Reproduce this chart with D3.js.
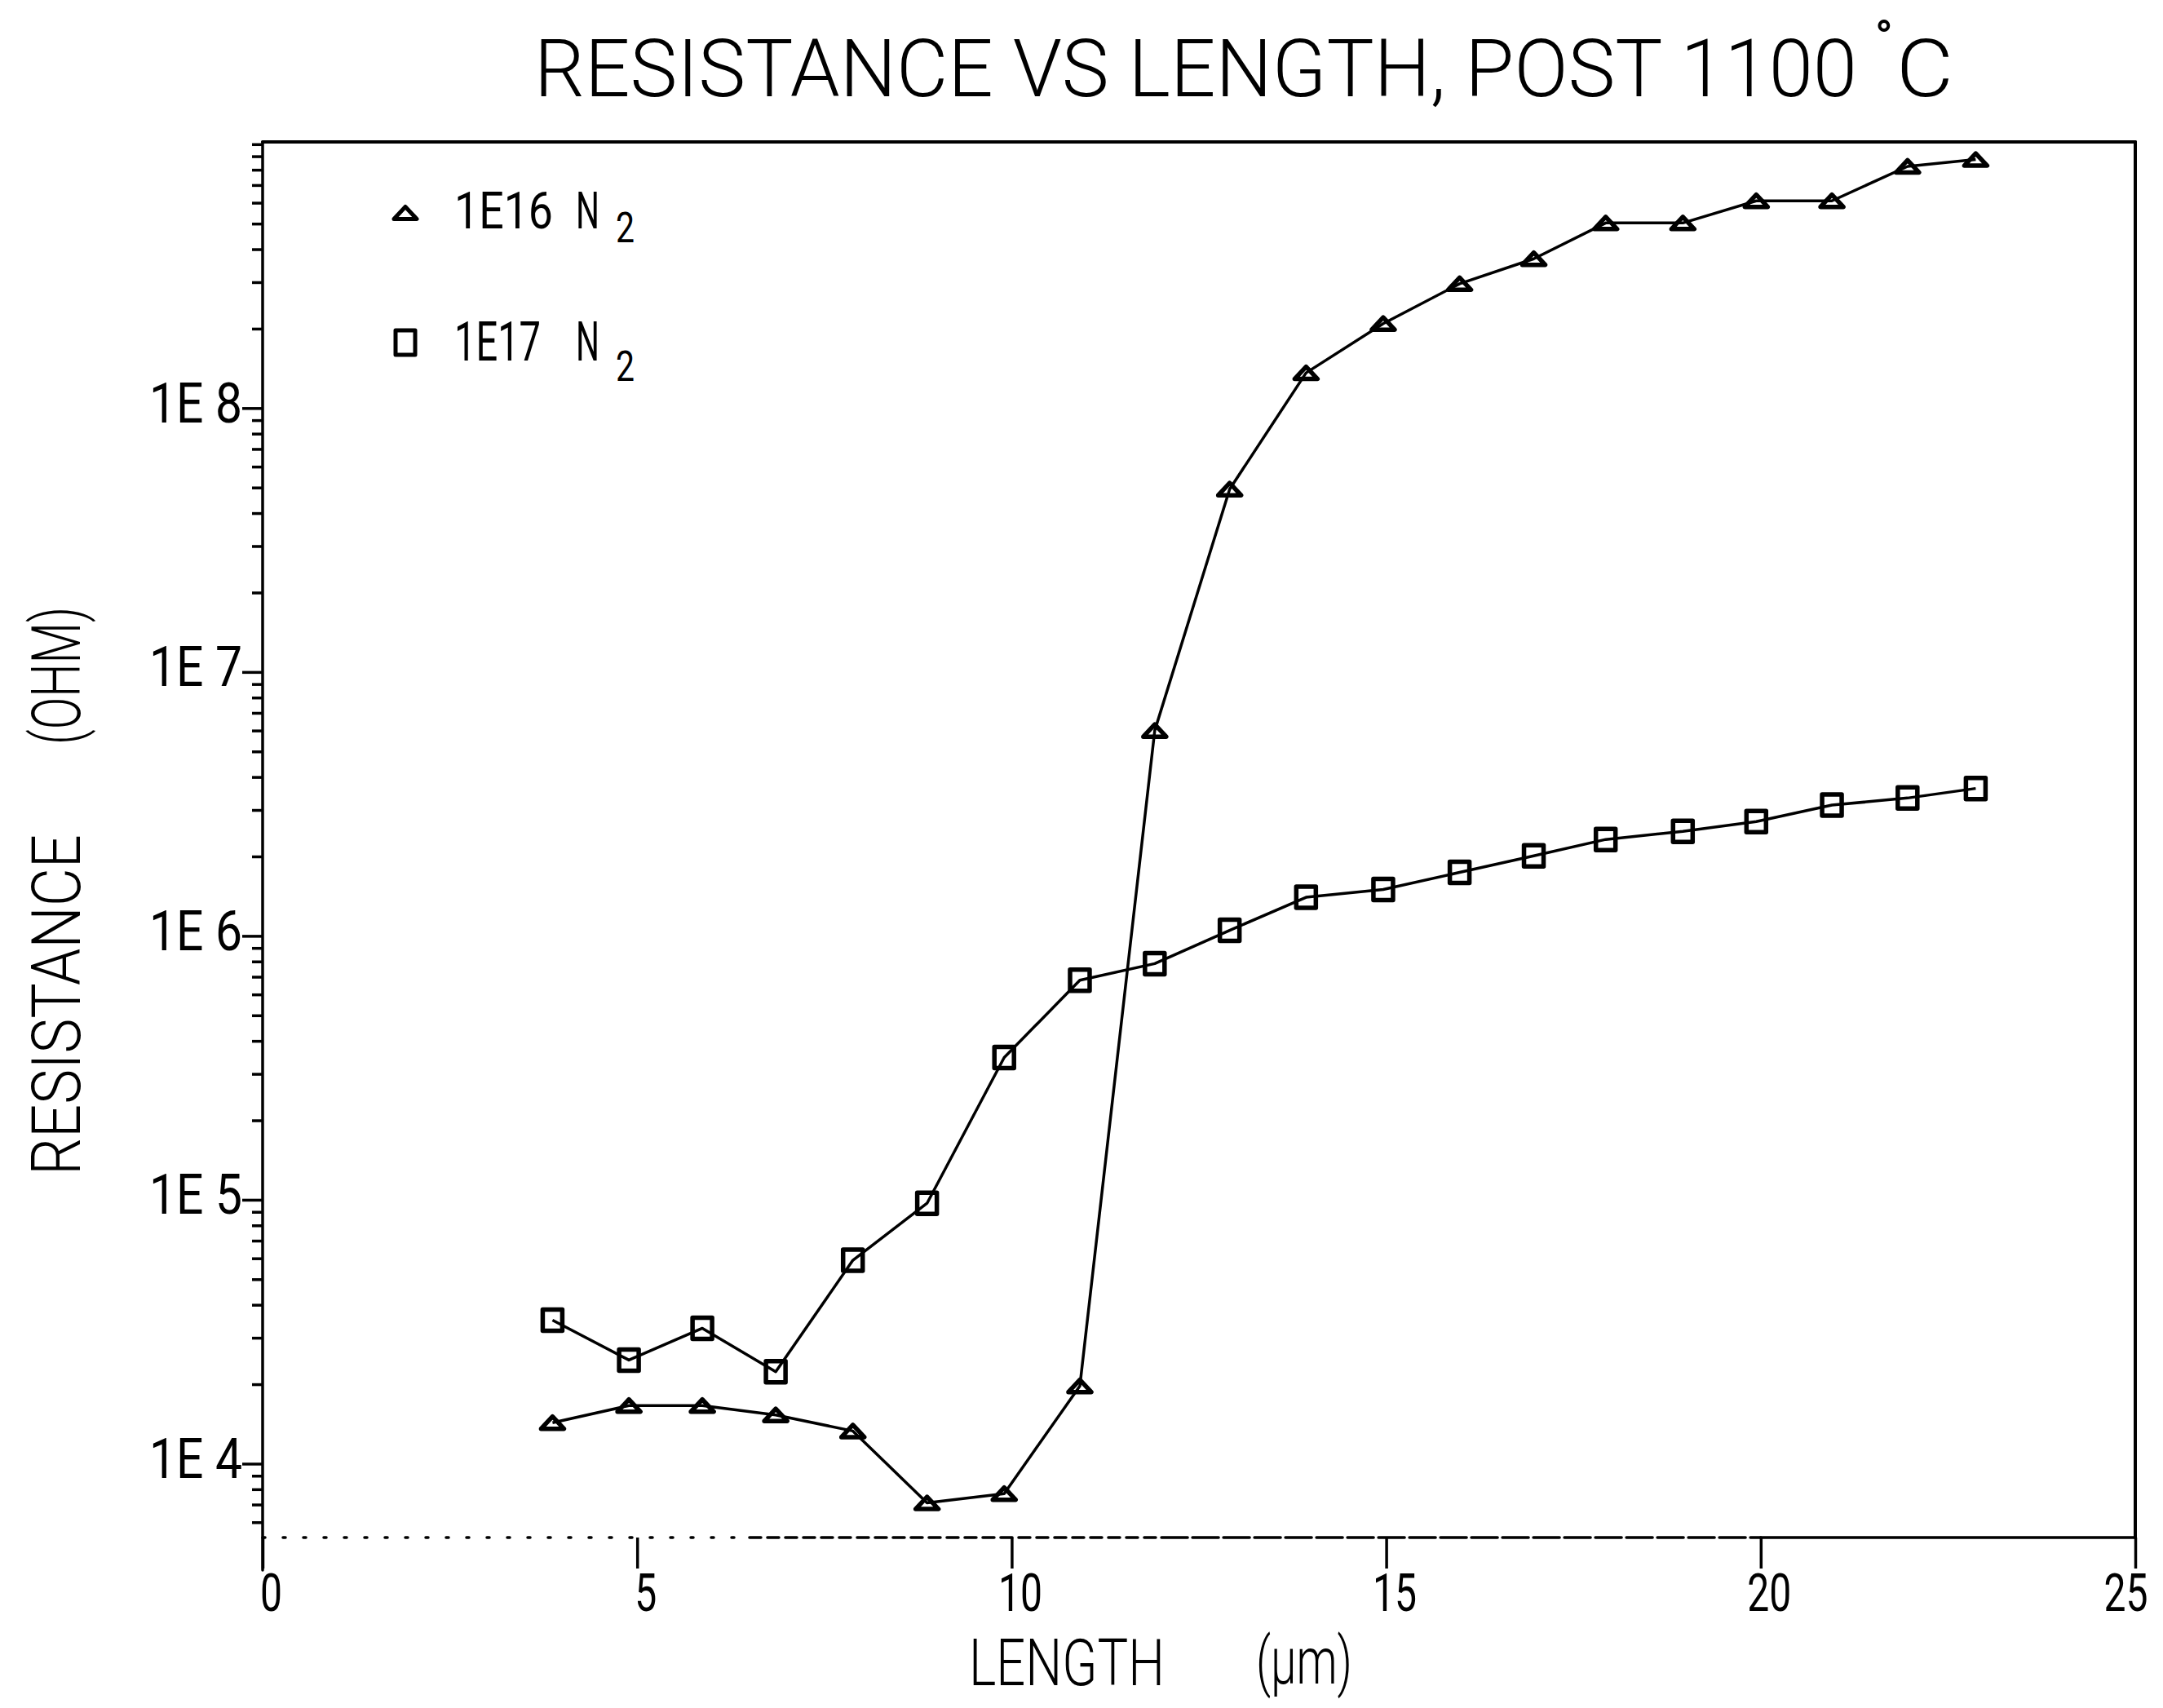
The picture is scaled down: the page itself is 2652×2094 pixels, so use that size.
<!DOCTYPE html>
<html>
<head>
<meta charset="utf-8">
<script src="https://cdn.jsdelivr.net/npm/d3@7"></script>
<style>
html,body{margin:0;padding:0;background:#fff;}
svg{display:block;}
</style>
</head>
<body>
<svg id="chart" width="2652" height="2094"></svg>
<script>
// ---- data ----
const lengths = [3.87, 4.89, 5.87, 6.85, 7.88, 8.87, 9.9, 10.91, 11.91, 12.91, 13.93, 14.96, 15.98, 16.97, 17.93, 18.96, 19.94, 20.95, 21.96, 22.87];
const res1E16 = [1.43e4, 1.66e4, 1.66e4, 1.53e4, 1.33e4, 7.1e3, 7.7e3, 1.97e4, 6.0e6, 4.93e7, 1.36e8, 2.09e8, 2.96e8, 3.68e8, 5.03e8, 5.03e8, 6.1e8, 6.1e8, 8.24e8, 8.75e8];
const res1E17 = [3.5e4, 2.47e4, 3.26e4, 2.23e4, 5.9e4, 9.7e4, 3.46e5, 6.79e5, 7.85e5, 1.05e6, 1.40e6, 1.50e6, 1.74e6, 2.01e6, 2.32e6, 2.49e6, 2.71e6, 3.13e6, 3.33e6, 3.62e6];
const seriesLabels = ["1E16", "1E17"];
const seriesGas = ["N", "N"];
const seriesSub = ["2", "2"];
const xTickValues = [0, 5, 10, 15, 20, 25];
const yDecadeExps = [4, 5, 6, 7, 8];
const titleMain = "RESISTANCE VS LENGTH, POST 1100";
const titleDeg = "\u00b0";
const titleUnit = "C";
const xTitle = "LENGTH";
const xUnit = "(\u03bcm)";
const yTitle = "RESISTANCE";
const yUnit = "(OHM)";

// ---- setup ----
const W = 2652, H = 2094;
const FONT = "Roboto, 'DejaVu Sans', sans-serif";
const svg = d3.select("#chart");
svg.append("rect").attr("width", W).attr("height", H).attr("fill", "#fff");

const x = d3.scaleLinear().domain([0, 25]).range([322, 2618]);
const y = d3.scaleLog().domain([5.25e3, 1.02e9]).range([1885, 174]);
const [yBot, yTop] = y.range();
const [xL, xR] = x.range();

// ---- frame ----
const frame = svg.append("g").attr("stroke", "#000").attr("fill", "none").attr("stroke-linecap", "round");
frame.append("line").attr("x1", xL).attr("x2", xR).attr("y1", yTop).attr("y2", yTop).attr("stroke-width", 4);
frame.append("line").attr("x1", xR).attr("x2", xR).attr("y1", yTop).attr("y2", yBot).attr("stroke-width", 4);
frame.append("line").attr("x1", xL).attr("x2", xL).attr("y1", yTop).attr("y2", yBot + 40).attr("stroke-width", 3.5);
// bottom frame: faded dotted on the left, solid on the right
const bottomSegs = [[0, 6.5, "3,22"], [6.5, 12, "14,8"], [12, 20, "32,6"], [20, 25, null]];
bottomSegs.forEach(([a, b, dash]) => {
  const l = frame.append("line").attr("x1", x(a)).attr("x2", x(b)).attr("y1", yBot).attr("y2", yBot).attr("stroke-width", 3.5);
  if (dash) l.attr("stroke-dasharray", dash);
});

// ---- y axis (log) ----
const yAxis = d3.axisLeft(y)
  .tickValues(yDecadeExps.map(e => Math.pow(10, e)))
  .tickSize(25).tickPadding(0)
  .tickFormat(d => "1E " + Math.round(Math.log10(d)));
const gy = svg.append("g").attr("transform", `translate(${xL},0)`).call(yAxis);
gy.select(".domain").remove();
gy.selectAll(".tick line").attr("stroke", "#000").attr("stroke-width", 3.5);
gy.selectAll(".tick text")
  .attr("font-family", FONT).attr("font-size", 68).attr("fill", "#000")
  .attr("dy", "0.25em")
  .attr("textLength", 114).attr("lengthAdjust", "spacingAndGlyphs");

const minorVals = [];
for (let e = 3; e <= 9; e++) for (let m = 1; m <= 9; m++) {
  const v = m * Math.pow(10, e);
  if (m === 1 && e >= 4 && e <= 8) continue;
  if (v >= y.domain()[0] && v <= y.domain()[1]) minorVals.push(v);
}
const yMinor = d3.axisLeft(y).tickValues(minorVals).tickSize(13).tickFormat("");
const gym = svg.append("g").attr("transform", `translate(${xL},0)`).call(yMinor);
gym.select(".domain").remove();
gym.selectAll(".tick line").attr("stroke", "#000").attr("stroke-width", 3.5);

// ---- x axis ----
const xAxis = d3.axisBottom(x).tickValues(xTickValues).tickSize(38).tickPadding(7).tickFormat(d3.format("d"));
const gx = svg.append("g").attr("transform", `translate(0,${yBot})`).call(xAxis);
gx.select(".domain").remove();
gx.selectAll(".tick line").attr("stroke", "#000").attr("stroke-width", 3.5);
gx.selectAll(".tick text")
  .attr("font-family", FONT).attr("font-size", 64).attr("fill", "#000")
  .attr("dx", d => d === 25 ? -12 : 10)
  .attr("textLength", d => String(d).length * 27).attr("lengthAdjust", "spacingAndGlyphs");

// ---- series ----
const series = [
  { vals: res1E16, shape: "tri" },
  { vals: res1E17, shape: "sq" }
];
const triPath = "M0,-7.5L14,7.5L-14,7.5Z";
const sqPath = "M-12,-13H12V13H-12Z";
const line = d3.line().x(d => x(d[0])).y(d => y(d[1]));

series.forEach(s => {
  const pts = lengths.map((l, i) => [l, s.vals[i]]);
  svg.append("path").datum(pts).attr("d", line)
    .attr("fill", "none").attr("stroke", "#000").attr("stroke-width", 3.5).attr("stroke-linejoin", "round");
  svg.append("g").selectAll("path").data(pts).join("path")
    .attr("d", s.shape === "tri" ? triPath : sqPath)
    .attr("transform", d => `translate(${x(d[0])},${y(d[1])})`)
    .attr("fill", "none").attr("stroke", "#000").attr("stroke-width", 5.5).attr("stroke-linejoin", "round");
});

// ---- legend ----
const legend = svg.append("g");
const legRows = [
  { cy: 261, base: 280, sub: 297, fs: 63, lw: 121, shape: triPath },
  { cy: 420, base: 442, sub: 467, fs: 67, lw: 106, shape: "M-12,-15H12V15H-12Z" }
];
legRows.forEach((r, i) => {
  legend.append("path").attr("d", r.shape).attr("transform", `translate(497,${r.cy})`)
    .attr("fill", "none").attr("stroke", "#000").attr("stroke-width", 5).attr("stroke-linejoin", "round");
  legend.append("text").attr("x", 557).attr("y", r.base).text(seriesLabels[i])
    .attr("font-family", FONT).attr("font-size", r.fs).attr("textLength", r.lw).attr("lengthAdjust", "spacingAndGlyphs");
  legend.append("text").attr("x", 706).attr("y", r.base).text(seriesGas[i])
    .attr("font-family", FONT).attr("font-size", r.fs).attr("textLength", 29).attr("lengthAdjust", "spacingAndGlyphs");
  legend.append("text").attr("x", 755).attr("y", r.sub).text(seriesSub[i])
    .attr("font-family", FONT).attr("font-size", 52).attr("textLength", 23).attr("lengthAdjust", "spacingAndGlyphs");
});

// ---- titles ----
const T = svg.append("g").attr("font-family", FONT).attr("fill", "#000").attr("font-weight", 300);
T.append("text").attr("x", 655).attr("y", 118).text(titleMain)
  .attr("font-size", 99).attr("textLength", 1622).attr("lengthAdjust", "spacingAndGlyphs");
T.append("text").attr("x", 2299).attr("y", 64).text(titleDeg)
  .attr("font-size", 56).attr("font-weight", 700);
T.append("text").attr("x", 2325).attr("y", 118).text(titleUnit)
  .attr("font-size", 99).attr("textLength", 70).attr("lengthAdjust", "spacingAndGlyphs");

T.append("text").attr("x", 1188).attr("y", 2066).text(xTitle)
  .attr("font-size", 80).attr("textLength", 240).attr("lengthAdjust", "spacingAndGlyphs");
T.append("text").attr("x", 1540).attr("y", 2064).text(xUnit)
  .attr("font-size", 80).attr("textLength", 118).attr("lengthAdjust", "spacingAndGlyphs");

T.append("text").attr("transform", "translate(98,1441) rotate(-90)").text(yTitle)
  .attr("font-size", 83).attr("textLength", 418).attr("lengthAdjust", "spacingAndGlyphs");
T.append("text").attr("transform", "translate(98,913) rotate(-90)").text(yUnit)
  .attr("font-size", 83).attr("textLength", 169).attr("lengthAdjust", "spacingAndGlyphs");
</script>
</body>
</html>
